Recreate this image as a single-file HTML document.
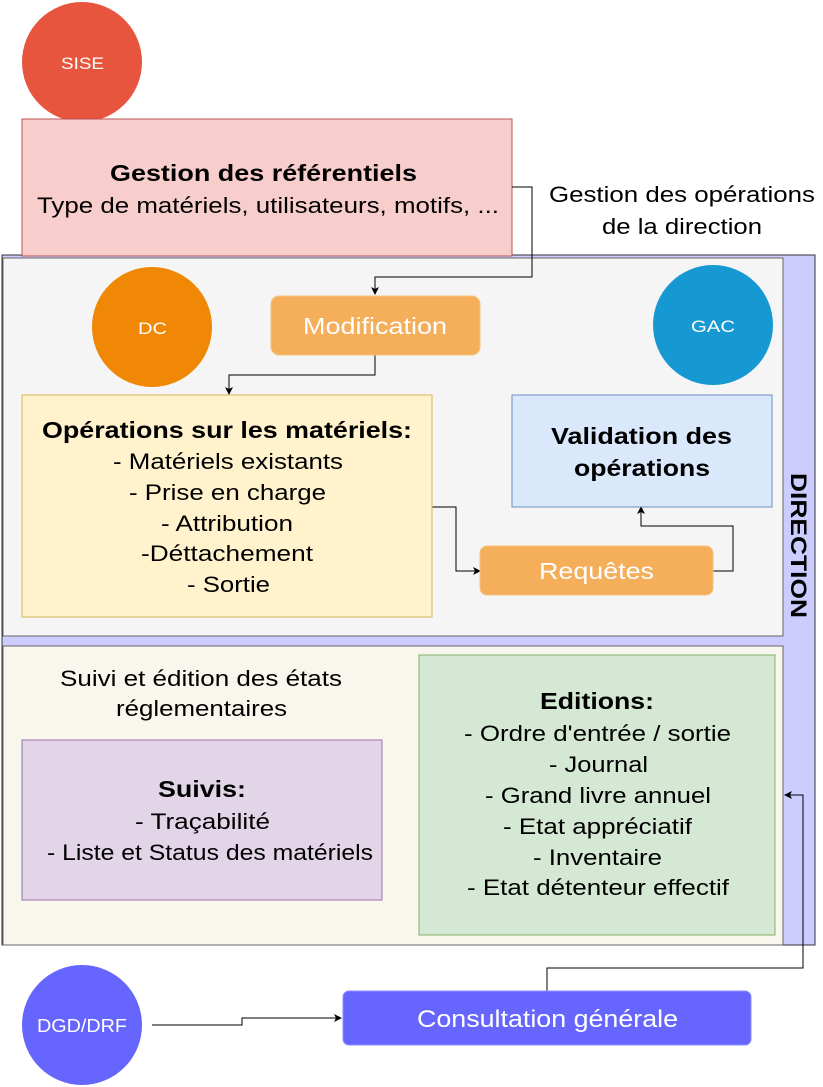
<!DOCTYPE html>
<html><head><meta charset="utf-8"><style>
body{margin:0;background:#fff}
svg{display:block;font-family:"Liberation Sans",sans-serif}
</style></head><body>
<svg width="823" height="1087" viewBox="0 0 823 1087" xmlns="http://www.w3.org/2000/svg">
<defs><marker id="a" markerWidth="8" markerHeight="8" refX="7" refY="4" orient="auto" markerUnits="userSpaceOnUse"><path d="M0,0 L8,4 L0,8 L2,4z" fill="#000"/></marker></defs>
<rect x="2" y="255" width="813" height="690" fill="#ccccff" stroke="#333" stroke-width="1"/>
<rect x="3" y="258" width="780" height="378" fill="#f5f5f5" stroke="#666"/>
<rect x="3" y="646" width="780" height="299" fill="#f9f7ed" stroke="#666"/>
<text x="0" y="0" font-size="22" font-weight="bold" transform="translate(791,473) rotate(90)" textLength="145" lengthAdjust="spacingAndGlyphs">DIRECTION</text>
<circle cx="82" cy="62" r="60" fill="#e8553e"/>
<text x="61" y="69" font-size="17" fill="#fff" textLength="43" lengthAdjust="spacingAndGlyphs">SISE</text>
<rect x="22" y="119" width="490" height="137" fill="#f8cecc" stroke="#b85450"/>
<text x="110" y="181" font-size="23" font-weight="bold" textLength="307" lengthAdjust="spacingAndGlyphs">Gestion des référentiels</text>
<text x="37" y="213" font-size="22" textLength="462" lengthAdjust="spacingAndGlyphs">Type de matériels, utilisateurs, motifs, ...</text>
<text x="549" y="202" font-size="22" textLength="266" lengthAdjust="spacingAndGlyphs">Gestion des opérations</text>
<text x="602" y="234" font-size="22" textLength="160" lengthAdjust="spacingAndGlyphs">de la direction</text>
<path d="M512,187 H532 V277 H375 V294" fill="none" stroke="#000" marker-end="url(#a)"/>
<path d="M375,355 V375 H229 V394" fill="none" stroke="#000" marker-end="url(#a)"/>
<path d="M432,507 H456 V571 H480" fill="none" stroke="#000" marker-end="url(#a)"/>
<path d="M713,571 H733 V526 H641 V507" fill="none" stroke="#000" marker-end="url(#a)"/>
<path d="M152,1025 H242 V1018 H341" fill="none" stroke="#000" marker-end="url(#a)"/>
<path d="M547,991 V968 H803 V795 H785" fill="none" stroke="#000" marker-end="url(#a)"/>
<ellipse cx="152" cy="327" rx="60" ry="60" fill="#f08705"/>
<text x="138" y="334" font-size="17" fill="#fff" textLength="29" lengthAdjust="spacingAndGlyphs">DC</text>
<ellipse cx="713" cy="325" rx="60" ry="60" fill="#1699d3"/>
<text x="691" y="332" font-size="17" fill="#fff" textLength="44" lengthAdjust="spacingAndGlyphs">GAC</text>
<rect x="271" y="296" width="209" height="59" rx="8" fill="#f5ae5a" stroke="#f7c27f"/>
<text x="303" y="334" font-size="23" fill="#fff" textLength="144" lengthAdjust="spacingAndGlyphs">Modification</text>
<rect x="22" y="395" width="410" height="222" fill="#fff2cc" stroke="#d6b656"/>
<text x="42" y="438" font-size="23" font-weight="bold" textLength="370" lengthAdjust="spacingAndGlyphs">Opérations sur les matériels:</text>
<g font-size="22">
<text x="113" y="469" textLength="230" lengthAdjust="spacingAndGlyphs">- Matériels existants</text>
<text x="129" y="500" textLength="197" lengthAdjust="spacingAndGlyphs">- Prise en charge</text>
<text x="161" y="531" textLength="132" lengthAdjust="spacingAndGlyphs">- Attribution</text>
<text x="141" y="561" textLength="172" lengthAdjust="spacingAndGlyphs">-Déttachement</text>
<text x="187" y="592" textLength="83" lengthAdjust="spacingAndGlyphs">- Sortie</text>
</g>
<rect x="512" y="395" width="260" height="112" fill="#dae8fc" stroke="#6c8ebf"/>
<text x="551" y="444" font-size="23" font-weight="bold" textLength="181" lengthAdjust="spacingAndGlyphs">Validation des</text>
<text x="574" y="476" font-size="23" font-weight="bold" textLength="136" lengthAdjust="spacingAndGlyphs">opérations</text>
<rect x="480" y="546" width="233" height="49" rx="7" fill="#f5ae5a" stroke="#f7c27f"/>
<text x="539" y="579" font-size="23" fill="#fff" textLength="115" lengthAdjust="spacingAndGlyphs">Requêtes</text>
<text x="60" y="686" font-size="22" textLength="282" lengthAdjust="spacingAndGlyphs">Suivi et édition des états</text>
<text x="116" y="716" font-size="22" textLength="171" lengthAdjust="spacingAndGlyphs">réglementaires</text>
<rect x="22" y="740" width="360" height="160" fill="#e1d5e7" stroke="#9673a6"/>
<text x="158" y="797" font-size="23" font-weight="bold" textLength="88" lengthAdjust="spacingAndGlyphs">Suivis:</text>
<text x="135" y="829" font-size="22" textLength="135" lengthAdjust="spacingAndGlyphs">- Traçabilité</text>
<text x="47" y="860" font-size="22" textLength="326" lengthAdjust="spacingAndGlyphs">- Liste et Status des matériels</text>
<rect x="419" y="655" width="356" height="280" fill="#d5e8d4" stroke="#82b366"/>
<text x="540" y="709" font-size="23" font-weight="bold" textLength="114" lengthAdjust="spacingAndGlyphs">Editions:</text>
<g font-size="22">
<text x="464" y="741" textLength="267" lengthAdjust="spacingAndGlyphs">- Ordre d'entrée / sortie</text>
<text x="549" y="772" textLength="99" lengthAdjust="spacingAndGlyphs">- Journal</text>
<text x="485" y="803" textLength="226" lengthAdjust="spacingAndGlyphs">- Grand livre annuel</text>
<text x="503" y="834" textLength="189" lengthAdjust="spacingAndGlyphs">- Etat appréciatif</text>
<text x="533" y="865" textLength="129" lengthAdjust="spacingAndGlyphs">- Inventaire</text>
<text x="467" y="895" textLength="262" lengthAdjust="spacingAndGlyphs">- Etat détenteur effectif</text>
</g>
<ellipse cx="82" cy="1025" rx="60" ry="60" fill="#6666ff"/>
<text x="37" y="1032" font-size="18" fill="#fff" textLength="90" lengthAdjust="spacingAndGlyphs">DGD/DRF</text>
<rect x="343" y="991" width="408" height="54" rx="6" fill="#6666ff" stroke="#8c8cff"/>
<text x="417" y="1027" font-size="24" fill="#fff" textLength="261" lengthAdjust="spacingAndGlyphs">Consultation générale</text>
</svg>
</body></html>
